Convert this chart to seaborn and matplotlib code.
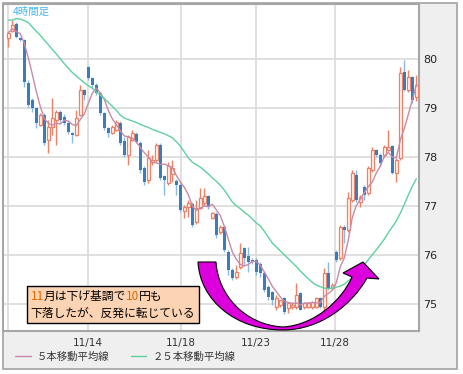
import numpy as np
import pandas as pd
import seaborn as sns
import matplotlib
matplotlib.use("Agg")
import matplotlib.pyplot as plt
from matplotlib.lines import Line2D
from matplotlib.patches import Rectangle, PathPatch
from matplotlib.path import Path
from matplotlib.offsetbox import TextArea, HPacker, VPacker, AnchoredOffsetbox

# 4時間足 (左から順に)
opens = [80.43, 80.58, 80.73, 80.43, 80.39, 79.52, 79.17, 79.01, 78.66, 78.86,
         78.35, 78.62, 78.76, 78.92, 78.82, 78.70, 78.50, 78.45, 78.86, 79.37,
         79.84, 79.62, 79.48, 79.31, 78.90, 78.60, 78.50, 78.56, 78.70, 78.33,
         78.05, 78.35, 78.48, 78.29, 77.78, 77.54, 77.90, 77.95, 78.25, 77.62,
         77.48, 77.66, 77.52, 77.43, 76.90, 76.99, 77.05, 76.68, 76.97, 77.07,
         77.21, 76.76, 76.84, 76.48, 76.58, 76.07, 75.70, 75.56, 75.76, 76.15,
         75.99, 75.90, 75.90, 75.82, 75.64, 75.35, 75.25, 74.95, 74.99, 75.13,
         74.92, 74.95, 74.95, 75.23, 74.95, 74.95, 74.95, 74.95, 75.13, 74.95,
         75.64, 75.33, 76.07, 75.95, 76.58, 76.52, 77.13, 77.64, 77.09, 77.39,
         77.27, 77.74, 78.15, 78.05, 78.05, 78.15, 78.23, 77.68, 77.99, 79.74,
         79.37, 79.64, 79.23]
highs = [80.58, 80.80, 80.77, 80.46, 80.41, 79.58, 79.21, 79.01, 78.90, 78.90,
         78.76, 79.21, 78.97, 78.97, 78.88, 78.74, 78.52, 78.97, 79.48, 79.39,
         79.86, 79.64, 79.52, 79.33, 78.92, 78.62, 78.66, 78.76, 78.74, 78.41,
         78.45, 78.56, 78.52, 78.33, 77.82, 78.15, 78.05, 78.29, 78.29, 77.64,
         77.90, 77.95, 77.56, 77.48, 77.03, 77.13, 77.09, 77.13, 77.37, 77.37,
         77.23, 76.88, 76.88, 76.62, 76.62, 76.11, 75.74, 75.80, 76.25, 76.17,
         76.17, 75.95, 75.95, 75.86, 75.66, 75.39, 75.27, 75.19, 75.09, 75.15,
         75.03, 75.05, 75.43, 75.25, 75.05, 75.05, 75.07, 75.15, 75.15, 75.74,
         75.86, 75.43, 76.11, 76.62, 76.62, 77.29, 77.74, 77.74, 77.23, 77.43,
         77.82, 78.21, 78.17, 78.09, 78.25, 78.56, 78.25, 77.99, 79.85, 79.99,
         79.78, 79.66, 79.68]
lows = [80.25, 80.56, 80.44, 80.37, 79.44, 79.01, 78.92, 78.60, 78.64, 78.25,
        78.09, 78.45, 78.25, 78.72, 78.66, 78.48, 78.29, 78.43, 78.84, 79.17,
        79.58, 79.41, 79.27, 78.86, 78.56, 78.41, 78.48, 78.54, 78.25, 78.01,
        77.84, 78.33, 78.29, 77.68, 77.43, 77.48, 77.84, 77.90, 77.54, 77.23,
        77.43, 77.50, 77.23, 76.88, 76.76, 76.78, 76.58, 76.64, 76.95, 77.01,
        76.95, 76.74, 76.35, 76.43, 76.07, 75.60, 75.50, 75.52, 75.72, 75.80,
        75.66, 75.82, 75.60, 75.56, 75.25, 75.09, 74.99, 74.88, 74.95, 74.80,
        74.82, 74.90, 74.90, 74.88, 74.90, 74.92, 74.90, 74.92, 74.92, 74.88,
        75.30, 75.30, 75.86, 75.90, 76.25, 76.48, 77.09, 77.09, 76.99, 77.13,
        77.23, 77.70, 78.01, 77.82, 78.01, 78.13, 77.66, 77.50, 77.95, 79.35,
        79.33, 79.11, 79.15]
closes = [80.54, 80.70, 80.46, 80.39, 79.54, 79.07, 79.01, 78.70, 78.86, 78.29,
          78.62, 78.80, 78.92, 78.76, 78.70, 78.52, 78.45, 78.80, 79.37, 79.27,
          79.62, 79.48, 79.31, 78.90, 78.60, 78.50, 78.62, 78.72, 78.29, 78.05,
          78.41, 78.50, 78.31, 77.74, 77.50, 77.99, 77.95, 78.25, 77.58, 77.54,
          77.82, 77.78, 77.43, 76.92, 76.99, 77.07, 76.62, 76.97, 77.17, 77.21,
          76.99, 76.86, 76.41, 76.58, 76.11, 75.70, 75.54, 75.66, 76.05, 75.95,
          75.86, 75.86, 75.66, 75.64, 75.29, 75.15, 75.09, 75.13, 75.09, 74.84,
          75.03, 74.99, 75.19, 74.88, 75.03, 75.03, 75.05, 75.13, 74.95, 75.64,
          75.33, 75.39, 75.90, 76.58, 76.52, 77.17, 77.68, 77.13, 77.19, 77.23,
          77.78, 78.15, 78.05, 77.88, 78.21, 78.21, 77.68, 77.95, 79.72, 79.37,
          79.64, 79.17, 79.48]
# 25本移動平均線 (チャートから読み取り)
ma25 = [80.80, 80.80, 80.83, 80.82, 80.79, 80.75, 80.66, 80.57, 80.49, 80.39,
        80.30, 80.20, 80.11, 80.01, 79.91, 79.82, 79.73, 79.66, 79.59, 79.52,
        79.46, 79.41, 79.34, 79.27, 79.20, 79.12, 79.04, 78.96, 78.86, 78.80,
        78.77, 78.74, 78.71, 78.67, 78.64, 78.61, 78.57, 78.54, 78.51, 78.48,
        78.44, 78.40, 78.32, 78.23, 78.11, 77.99, 77.90, 77.85, 77.80, 77.73,
        77.66, 77.58, 77.51, 77.43, 77.33, 77.21, 77.09, 77.01, 76.95, 76.88,
        76.82, 76.74, 76.66, 76.60, 76.49, 76.37, 76.25, 76.17, 76.09, 76.01,
        75.93, 75.85, 75.77, 75.68, 75.60, 75.52, 75.45, 75.39, 75.36, 75.33,
        75.32, 75.33, 75.35, 75.37, 75.41, 75.48, 75.54, 75.60, 75.70, 75.80,
        75.91, 76.01, 76.11, 76.22, 76.33, 76.46, 76.58, 76.70, 76.86, 77.04,
        77.23, 77.41, 77.56]

# 日付の区切り (ローソク足の番号)
date_pos = [0, 20, 43.25, 62, 81.75]
date_labels = ["", "11/14", "11/18", "11/23", "11/28"]
price_ticks = [75, 76, 77, 78, 79, 80]

df = pd.DataFrame({"open": opens, "high": highs, "low": lows,
                   "close": closes, "ma25": ma25})
df["idx"] = np.arange(len(df))
df["ma5"] = df["close"].rolling(5, min_periods=1).mean()

sns.set_theme(style="white")
jp = ["Noto Sans CJK JP", "DejaVu Sans"]

W, H = 463, 374
fig = plt.figure(figsize=(W / 100, H / 100), dpi=100, facecolor="white")
# 外枠 (グレーのパネル)
fig.patches.append(Rectangle((2.5 / W, 1 - 368.5 / H), 454.5 / W, 366 / H,
                             transform=fig.transFigure, facecolor="#efefef",
                             edgecolor="#a9a9a9", lw=1.3, zorder=-5))

L, R, T, B = 3, 419, 3.5, 331
ax = fig.add_axes([L / W, 1 - B / H, (R - L) / W, (B - T) / H])
ax.set_zorder(1)
ax.set_facecolor("white")

up_col, dn_col, dn_wick = "#e8836a", "#3a7dbf", "#8cb9e2"
up = df["close"] >= df["open"]
body = (df["close"] - df["open"]).abs().clip(lower=0.025)
bottom = df[["open", "close"]].min(axis=1)

ax.vlines(df["idx"][up], df["low"][up], df["high"][up], color=up_col, lw=1, zorder=2)
ax.vlines(df["idx"][~up], df["low"][~up], df["high"][~up], color=dn_wick, lw=1, zorder=2)
ax.bar(df["idx"][up], body[up], bottom=bottom[up], width=0.75,
       facecolor="#fff6f3", edgecolor=up_col, lw=0.9, zorder=3)
ax.bar(df["idx"][~up], body[~up], bottom=bottom[~up], width=0.75,
       color=dn_col, lw=0, zorder=3)

ma5_col, ma25_col = "#c98aa8", "#5fd0a0"
sns.lineplot(data=df, x="idx", y="ma5", color=ma5_col, lw=1, ax=ax, zorder=4)
sns.lineplot(data=df, x="idx", y="ma25", color=ma25_col, lw=1, ax=ax, zorder=4)

ax.set_xlim((L - 8.3) / 4, (R - 8.3) / 4)
ax.set_ylim(81.21 - B / 49, 81.21 - T / 49)
ax.set_xticks(date_pos)
ax.set_xticklabels(date_labels)
ax.set_yticks(price_ticks)
ax.yaxis.tick_right()
ax.set_xlabel("")
ax.set_ylabel("")
ax.grid(True, color="#dadada", lw=1.2)
ax.set_axisbelow(True)
ax.tick_params(axis="x", length=0, pad=5, labelsize=7.5, labelcolor="#333333")
ax.tick_params(axis="y", length=0, pad=3, labelsize=8, labelcolor="#222222")
for s in ax.spines.values():
    s.set_color("#a6a6a6")
    s.set_linewidth(1.5)

ax.text(0.024, 0.99, "4時間足", transform=ax.transAxes, ha="left", va="top",
        fontsize=7.5, color="#45b5ef", family=jp)

# 矢印 (画像ピクセル -> 軸座標)
def px(x, y):
    return ((x - L) / (R - L), (B - y) / (B - T))

pts = [(198, 262), (200, 300), (235, 330), (283, 330),
       (320, 330), (352, 305), (367, 278),
       (379, 279), (363, 262), (343, 273), (352, 277),
       (342, 300), (315, 325), (283, 327),
       (245, 325), (218, 295), (216, 262), (198, 262)]
codes = ([Path.MOVETO] + [Path.CURVE4] * 3 + [Path.CURVE4] * 3 +
         [Path.LINETO] * 4 + [Path.CURVE4] * 3 + [Path.CURVE4] * 3 + [Path.CLOSEPOLY])
arrow = PathPatch(Path([px(*p) for p in pts], codes), transform=ax.transAxes,
                  facecolor="#dc00dc", edgecolor="black", lw=0.8, zorder=6, clip_on=False)
ax.add_patch(arrow)

# コメントの枠
fs = 8.5
orange = "#d96b00"
def ta(s, c="black"):
    return TextArea(s, textprops=dict(color=c, fontsize=fs, family=jp))

line1 = HPacker(children=[ta("11", orange), ta("月は下げ基調で"), ta("10", orange), ta("円も")],
                align="baseline", pad=0, sep=0)
line2 = HPacker(children=[ta("下落したが、反発に転じている")], align="baseline", pad=0, sep=0)
box = AnchoredOffsetbox(loc="upper left", child=VPacker(children=[line1, line2], align="left", pad=0, sep=3),
                        pad=0.3, borderpad=0, frameon=True, prop=dict(size=fs),
                        bbox_to_anchor=px(27, 286), bbox_transform=ax.transAxes)
box.patch.set_facecolor("#fcd3b3")
box.patch.set_edgecolor("black")
box.patch.set_linewidth(1)
box.set_zorder(7)
ax.add_artist(box)

handles = [Line2D([], [], color=ma5_col, lw=1), Line2D([], [], color=ma25_col, lw=1)]
fig.legend(handles, ["５本移動平均線", "２５本移動平均線"], loc="center left",
           bbox_to_anchor=(6 / W, 1 - 357 / H), ncol=2, frameon=False,
           handlelength=1.5, handletextpad=0.6, columnspacing=2.0,
           prop=dict(family=jp, size=7.5), labelcolor="#333333")

fig.savefig("out.png", dpi=100, facecolor="white")
